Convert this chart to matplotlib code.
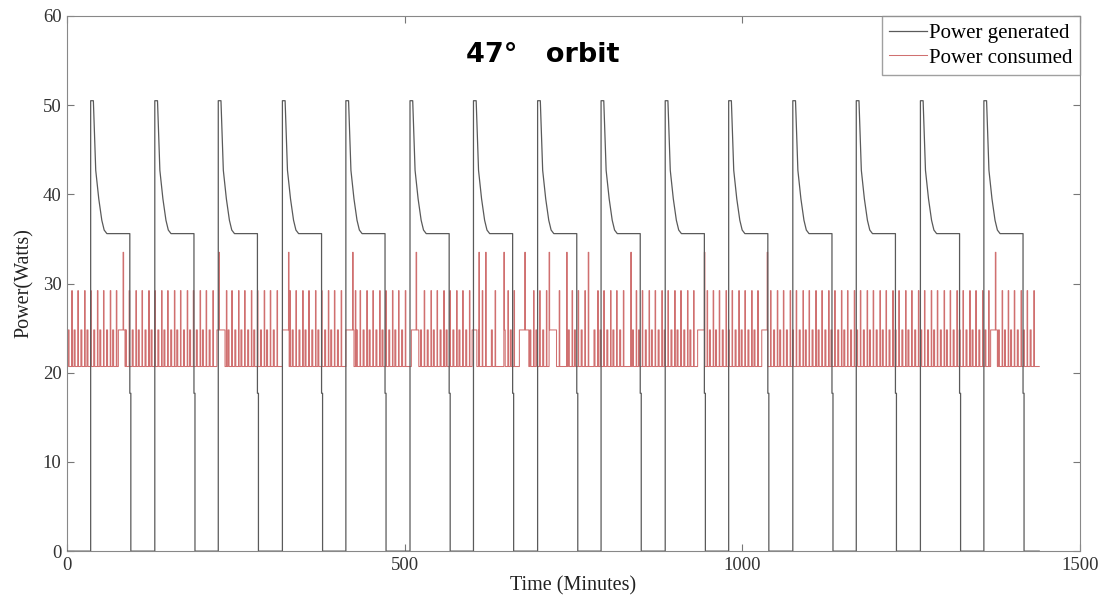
import numpy as np
import matplotlib
matplotlib.use("Agg")
import matplotlib.pyplot as plt

# 发电功率：每个轨道的日照开始 / 进入地影时间（分钟）
rise_times = [35, 130, 224, 319, 413, 508, 602, 697, 791, 886, 980, 1075, 1169, 1264, 1358]
drop_times = [93, 188, 282, 377, 471, 566, 660, 755, 849, 944, 1038, 1133, 1227, 1322, 1416]
# 日照段内功率曲线（相对日照开始的分钟, 功率）
sun_offsets = [0, 4, 7.5, 12, 16.5, 20, 24]
sun_power = [50.5, 50.5, 42.7, 39.5, 37.1, 36.0, 35.6]
steady_power = 35.6
eclipse_step = 17.7
end_time = 1440

# 消耗功率
base_power = 20.7
low_level = 24.8
high_level = 29.2
peak_level = 33.5
high_pulse_times = [
    7, 16, 26, 35, 45, 54, 64, 73, 92, 102, 111, 121, 130, 140, 149, 159, 168, 178,
    187, 197, 206, 216, 236, 244, 254, 263, 273, 282, 292, 301, 311, 330, 339, 349,
    358, 368, 377, 387, 396, 406, 427, 434, 444, 453, 463, 472, 482, 491, 501, 529,
    539, 548, 558, 567, 577, 586, 596, 615, 634, 653, 662, 691, 700, 710, 729, 748,
    757, 767, 786, 795, 805, 814, 824, 843, 852, 862, 871, 881, 890, 900, 909, 919,
    928, 948, 957, 966, 976, 985, 995, 1004, 1014, 1023, 1042, 1052, 1061, 1071,
    1080, 1090, 1099, 1109, 1118, 1128, 1137, 1147, 1156, 1166, 1175, 1185, 1194,
    1204, 1213, 1223, 1232, 1242, 1251, 1261, 1270, 1280, 1289, 1299, 1308, 1318,
    1327, 1337, 1346, 1356, 1365, 1385, 1394, 1403, 1413, 1422, 1432]
peak_spike_times = [83, 225, 328, 423, 517, 610, 620, 647, 678, 714, 740, 772, 835, 944, 1037, 1375]
plateau_start = [76, 222, 319, 413, 510, 600, 670, 714, 934, 1029, 1368]
plateau_end = [86, 234, 329, 425, 521, 607, 684, 724, 944, 1037, 1378]


def generated_series():
    t, p = [0], [0]
    for r, d in zip(rise_times, drop_times):
        t += [r]
        p += [0]
        t += [r + o for o in sun_offsets]
        p += sun_power
        t += [d, d, d + 1.5, d + 1.5]
        p += [steady_power, eclipse_step, eclipse_step, 0]
    t.append(end_time)
    p.append(0)
    return t, p


def consumed_series():
    events = []
    for T in high_pulse_times:
        events.append((T, T + 0.8, high_level))
        events.append((T - 5.5, T - 4, low_level))
    for T in peak_spike_times:
        events.append((T, T + 0.8, peak_level))
    for a, b in zip(plateau_start, plateau_end):
        events.append((a, b, low_level))
    bps = sorted(set([0, end_time] + [e[0] for e in events] + [e[1] for e in events]))
    levels = []
    for x in bps:
        lv = base_power
        for a, b, v in events:
            if a <= x < b:
                lv = max(lv, v)
        levels.append(lv)
    return bps, levels


fig = plt.figure(figsize=(11.08, 6.03), dpi=100)
ax = fig.add_axes([0.0605, 0.086, 0.914, 0.8875])

tc, pc = consumed_series()
tg, pg = generated_series()
ax.plot(tc, pc, drawstyle="steps-post", color="#d07070", lw=0.75, label="Power consumed", zorder=2)
ax.plot(tg, pg, color="#5a5a5a", lw=0.9, label="Power generated", zorder=3)

ax.set_xlim(0, 1500)
ax.set_ylim(0, 60)
ax.set_xticks([0, 500, 1000, 1500])
ax.set_yticks(range(0, 61, 10))

serif = "Liberation Serif"
for lab in ax.get_xticklabels() + ax.get_yticklabels():
    lab.set_fontfamily(serif)
    lab.set_fontsize(13.5)
    lab.set_color("#333333")
ax.tick_params(direction="in", length=5, top=True, right=True, color="#777777", pad=4)
for s in ax.spines.values():
    s.set_color("#888888")

ax.set_xlabel("Time (Minutes)", fontfamily=serif, fontsize=14.5, color="#222222", labelpad=2)
ax.set_ylabel("Power(Watts)", fontfamily=serif, fontsize=14.5, color="#222222", labelpad=6)

h, l = ax.get_legend_handles_labels()
leg = ax.legend(h[::-1], l[::-1], loc="upper right", bbox_to_anchor=(1, 1), borderaxespad=0,
                fancybox=False, edgecolor="#888888", handlelength=1.8, handletextpad=0.1,
                prop={"family": serif, "size": 15}, labelspacing=0.25, borderpad=0.35)
leg.get_frame().set_linewidth(1.0)

ax.text(0.47, 0.927, "47°   orbit", transform=ax.transAxes, ha="center", va="center",
        fontsize=19.5, fontweight="bold", fontfamily="DejaVu Sans")

fig.savefig("out.png", dpi=100)
